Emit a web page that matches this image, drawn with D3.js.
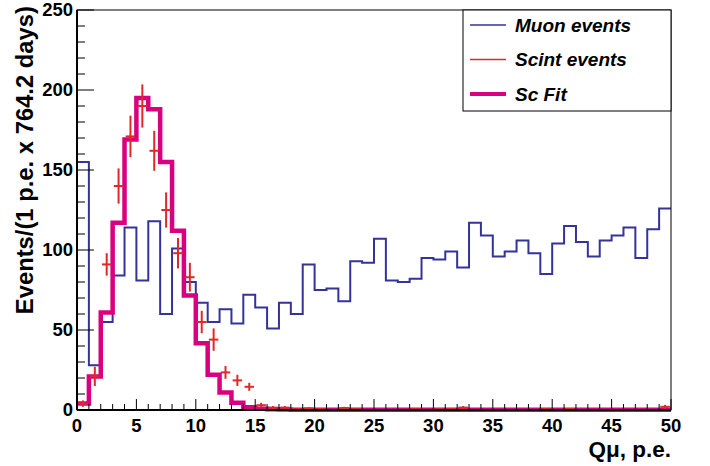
<!DOCTYPE html>
<html>
<head>
<meta charset="utf-8">
<script src="https://cdn.jsdelivr.net/npm/d3@7"></script>
<style>
  body { margin: 0; background: #fff; }
  svg text { font-family: "Liberation Sans", Arial, sans-serif; font-weight: bold; }
</style>
</head>
<body>
<script>
// bin counts, one per 1 p.e. bin from 0 to 50
var muonCounts = [155, 28, 55, 84, 114, 81, 118, 60, 101, 80,
                  67, 55, 63, 54, 72, 64, 51, 67, 60, 91,
                  75, 76, 68, 93, 92, 107, 81, 80, 82, 95,
                  94, 99, 89, 117, 109, 96, 99, 106, 98, 85,
                  104, 115, 105, 96, 106, 109, 114, 95, 113, 126];

var scintCounts = [4, 21, 91, 140, 171, 190, 162, 125, 98, 83,
                   55, 44, 23.5, 18.5, 14.5, 3, 1.5, 1.5, 0.5, 1,
                   0.5, 0, 1.2, 0.5, 0, 0, 0, 0, 0.4, 0,
                   0.4, 0.5, 1.5, 0, 0, 0, 0, 0, 0, 0.5,
                   0, 0.6, 0, 0, 0, 0, 0, 0, 0, 2];

var scintErrors = [2, 6, 7, 11, 13, 13.5, 12.5, 11, 9.5, 9,
                   7, 7, 4, 3.5, 2.5, 1.5, 1, 1, 0.5, 0.8,
                   0.5, 0, 0.8, 0.5, 0, 0, 0, 0, 0.5, 0,
                   0.5, 0.5, 1, 0, 0, 0, 0, 0, 0, 0.5,
                   0, 0.5, 0, 0, 0, 0, 0, 0, 0, 1.2];

var fitCounts = [4, 21, 61, 117, 169, 195, 188, 155, 112, 71.5,
                 41.7, 22, 11, 4.6, 1.7, 0.8, 0.4, 0.3, 0.2, 0.2,
                 0.2, 0.2, 0.2, 0.2, 0.2, 0.2, 0.2, 0.2, 0.2, 0.2,
                 0.2, 0.2, 0.2, 0.2, 0.2, 0.2, 0.2, 0.2, 0.2, 0.2,
                 0.2, 0.2, 0.2, 0.2, 0.2, 0.2, 0.2, 0.2, 0.2, 0.2];

var xTicks = [0, 5, 10, 15, 20, 25, 30, 35, 40, 45, 50];
var yTicks = [0, 50, 100, 150, 200, 250];
var legendLabels = ["Muon events", "Scint events", "Sc Fit"];

var colBlue = "#33339a", colRed = "#e0282a", colPink = "#d9007f";

var W = 710, H = 466;
var margin = {top: 10, right: 39, bottom: 56, left: 77};
var w = W - margin.left - margin.right;
var h = H - margin.top - margin.bottom;

var svg = d3.select("body").append("svg").attr("width", W).attr("height", H);
var g = svg.append("g").attr("transform", "translate(" + margin.left + "," + margin.top + ")");

var x = d3.scaleLinear().domain([0, 50]).range([0, w]);
var y = d3.scaleLinear().domain([0, 250]).range([h, 0]);

// step path for a histogram
function histPath(counts) {
    var p = d3.path();
    counts.forEach(function(c, i) {
        if (i == 0) p.moveTo(x(0), y(c));
        else p.lineTo(x(i), y(c));
        p.lineTo(x(i + 1), y(c));
    });
    return p.toString();
}

// muon histogram (starts from the baseline at the left edge)
g.append("path")
    .attr("d", "M" + x(0) + "," + y(0) + histPath(muonCounts).replace(/^M/, "L"))
    .attr("fill", "none")
    .attr("stroke", colBlue)
    .attr("stroke-width", 2);

// fit
g.append("path")
    .attr("d", histPath(fitCounts))
    .attr("fill", "none")
    .attr("stroke", colPink)
    .attr("stroke-width", 4.5);

// scint points with errors
var pts = scintCounts.map(function(c, i) { return {i: i, v: c, e: scintErrors[i]}; })
    .filter(function(d) { return d.v > 0; });

var pg = g.selectAll(".pt").data(pts).enter().append("g").attr("class", "pt");
pg.append("line")
    .attr("x1", function(d) { return x(d.i + 0.1); })
    .attr("x2", function(d) { return x(d.i + 0.9); })
    .attr("y1", function(d) { return y(d.v); })
    .attr("y2", function(d) { return y(d.v); })
    .attr("stroke", colRed).attr("stroke-width", 2);
pg.append("line")
    .attr("x1", function(d) { return x(d.i + 0.5); })
    .attr("x2", function(d) { return x(d.i + 0.5); })
    .attr("y1", function(d) { return y(d.v + d.e); })
    .attr("y2", function(d) { return y(Math.max(0, d.v - d.e)); })
    .attr("stroke", colRed).attr("stroke-width", 2);

// frame
g.append("rect")
    .attr("width", w).attr("height", h)
    .attr("fill", "none").attr("stroke", "#000").attr("stroke-width", 1);

// x axis ticks (drawn inward)
var xAxis = g.append("g").attr("transform", "translate(0," + h + ")");
xAxis.selectAll(".minor").data(d3.range(0, 51)).enter().append("line")
    .attr("x1", function(d) { return x(d); }).attr("x2", function(d) { return x(d); })
    .attr("y1", 0).attr("y2", function(d) { return d % 5 == 0 ? -11 : -6; })
    .attr("stroke", "#000").attr("stroke-width", 1);
xAxis.append("line").attr("x1", 0).attr("x2", w).attr("stroke", "#000").attr("stroke-width", 2);
xAxis.selectAll(".lbl").data(xTicks).enter().append("text")
    .attr("x", function(d) { return x(d); })
    .attr("y", 21.5)
    .attr("text-anchor", "middle")
    .style("font-size", "18.5px")
    .text(function(d) { return d; });

// y axis ticks
var yAxis = g.append("g");
yAxis.selectAll(".minor").data(d3.range(0, 251, 10)).enter().append("line")
    .attr("y1", function(d) { return y(d); }).attr("y2", function(d) { return y(d); })
    .attr("x1", 0).attr("x2", function(d) { return d % 50 == 0 ? 17 : 8; })
    .attr("stroke", "#000").attr("stroke-width", 1);
yAxis.append("line").attr("y1", 0).attr("y2", h).attr("stroke", "#000").attr("stroke-width", 2);
yAxis.selectAll(".lbl").data(yTicks).enter().append("text")
    .attr("x", -4)
    .attr("y", function(d) { return y(d); })
    .attr("dy", "0.3em")
    .attr("text-anchor", "end")
    .style("font-size", "18.5px")
    .text(function(d) { return d; });

// axis titles
svg.append("text")
    .attr("x", margin.left + w)
    .attr("y", 457)
    .attr("text-anchor", "end")
    .style("font-size", "22.5px")
    .text("Qμ, p.e.");

svg.append("text")
    .attr("transform", "translate(33," + (margin.top - 4) + ") rotate(-90)")
    .attr("text-anchor", "end")
    .style("font-size", "23.8px")
    .text("Events/(1 p.e. x 764.2 days)");

// legend
var lg = svg.append("g").attr("transform", "translate(463,10)");
lg.append("rect").attr("width", 208).attr("height", 101)
    .attr("fill", "#fff").attr("stroke", "#000").attr("stroke-width", 1);
var legendCols = [colBlue, colRed, colPink];
var legendWidths = [1.5, 1.5, 4];
legendLabels.forEach(function(l, i) {
    var ly = 15 + i * 34.5;
    lg.append("line").attr("x1", 7).attr("x2", 43).attr("y1", ly).attr("y2", ly)
        .attr("stroke", legendCols[i]).attr("stroke-width", legendWidths[i]);
    lg.append("text").attr("x", 52).attr("y", ly).attr("dy", "0.35em")
        .style("font-size", "19px").style("font-style", "italic")
        .text(l);
});
</script>
</body>
</html>
